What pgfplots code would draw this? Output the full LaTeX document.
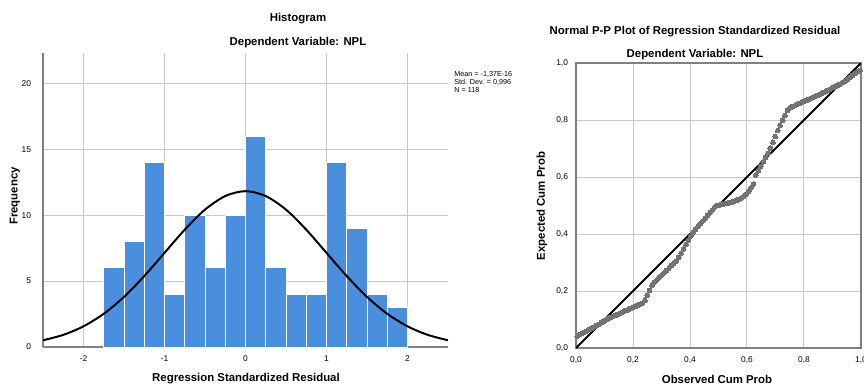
\documentclass[border=0pt]{standalone}
\usepackage{fontspec}
\setmainfont{Liberation Sans}
\usepackage{pgfplots}
\pgfplotsset{compat=1.18}
\definecolor{barblue}{RGB}{74,143,221}
\definecolor{gridgray}{RGB}{200,200,200}
\definecolor{ptgray}{RGB}{115,115,115}
\newcommand{\tfont}{\fontsize{5.7}{6.5}\selectfont\bfseries}
\newcommand{\kfont}{\fontsize{4.2}{5}\selectfont}
\begin{document}
\begin{tikzpicture}
\path[use as bounding box] (0,0) rectangle (432pt,193.5pt);
% Histogram
\begin{axis}[
  at={(21.5pt,20pt)}, anchor=south west,
  scale only axis, width=202.5pt, height=147pt,
  xmin=-2.5, xmax=2.5, ymin=0, ymax=22.3,
  xtick={-2,-1,0,1,2}, xticklabels={-2,-1,0,1,2},
  ytick={0,5,10,15,20}, yticklabels={0,5,10,15,20},
  grid=major, major grid style={gridgray, line width=0.5pt},
  axis x line*=bottom, axis y line*=left,
  axis line style={-, gray, line width=0.6pt},
  tick style={draw=none},
  ticklabel style={font=\kfont},
  xticklabel style={yshift=-1pt},
  yticklabel style={xshift=-2.5pt},
]
\addplot[ybar interval, fill=barblue, draw=white, line width=0.5pt] coordinates {
(-1.75,6) (-1.5,8) (-1.25,14) (-1.0,4) (-0.75,10) (-0.5,6) (-0.25,10)
(0,16) (0.25,6) (0.5,4) (0.75,4) (1.0,14) (1.25,9) (1.5,4) (1.75,3) (2.0,3)};
\addplot[black, line width=1pt, smooth] coordinates {
(-2.5,0.51) (-2.25,0.92) (-2.0,1.57) (-1.75,2.52) (-1.5,3.80) (-1.25,5.38)
(-1.0,7.14) (-0.75,8.90) (-0.5,10.42) (-0.25,11.45) (0,11.82)
(0.25,11.45) (0.5,10.42) (0.75,8.90) (1.0,7.14) (1.25,5.38) (1.5,3.80)
(1.75,2.52) (2.0,1.57) (2.25,0.92) (2.5,0.51)};
\end{axis}
% P-P plot
\begin{axis}[
  at={(288pt,19.5pt)}, anchor=south west,
  scale only axis, width=142.5pt, height=142.5pt,
  xmin=0, xmax=1, ymin=0, ymax=1,
  xtick={0,0.2,0.4,0.6,0.8,1}, xticklabels={{0,0},{0,2},{0,4},{0,6},{0,8},{1,0}},
  ytick={0,0.2,0.4,0.6,0.8,1}, yticklabels={{0,0},{0,2},{0,4},{0,6},{0,8},{1,0}},
  grid=major, major grid style={gridgray, line width=0.5pt},
  axis line style={gray, line width=0.6pt},
  tick style={draw=none},
  ticklabel style={font=\kfont},
  xticklabel style={yshift=-1pt},
  yticklabel style={xshift=-0.5pt},
]
\addplot[ptgray, only marks, mark=*, mark size=1.2pt, mark options={fill=ptgray, draw=ptgray, line width=0pt}] coordinates {
(0.004,0.042) (0.013,0.047) (0.021,0.051) (0.030,0.056) (0.038,0.060) (0.047,0.065)
(0.055,0.069) (0.064,0.074) (0.072,0.079) (0.081,0.084) (0.089,0.089) (0.097,0.094) (0.106,0.099) (0.114,0.104)
(0.123,0.108) (0.131,0.112) (0.140,0.115) (0.148,0.119) (0.157,0.123) (0.165,0.127) (0.174,0.131)
(0.182,0.134) (0.191,0.138) (0.199,0.142) (0.208,0.146) (0.216,0.150) (0.225,0.153) (0.233,0.157)
(0.242,0.168) (0.250,0.185) (0.258,0.202) (0.267,0.219)
(0.275,0.231) (0.284,0.239) (0.292,0.248) (0.301,0.256) (0.309,0.264) (0.318,0.272) (0.326,0.280) (0.335,0.289) (0.343,0.297) (0.352,0.305)
(0.360,0.317) (0.369,0.332) (0.377,0.347) (0.386,0.363) (0.394,0.378) (0.403,0.393)
(0.411,0.406) (0.419,0.416) (0.428,0.426) (0.436,0.436) (0.445,0.446) (0.453,0.455) (0.462,0.465) (0.470,0.475) (0.479,0.485) (0.487,0.495)
(0.496,0.500) (0.504,0.502) (0.513,0.504) (0.521,0.506) (0.530,0.508) (0.538,0.510) (0.547,0.512) (0.555,0.515)
(0.564,0.518) (0.572,0.522) (0.581,0.527) (0.589,0.533) (0.597,0.540) (0.606,0.550) (0.614,0.562) (0.623,0.575)
(0.631,0.607) (0.640,0.622) (0.648,0.637) (0.657,0.653) (0.665,0.668) (0.674,0.683)
(0.682,0.701) (0.691,0.722) (0.699,0.742) (0.708,0.763)
(0.716,0.782) (0.725,0.799) (0.733,0.816) (0.742,0.833)
(0.750,0.843) (0.758,0.847) (0.767,0.850) (0.775,0.854) (0.784,0.858) (0.792,0.862) (0.801,0.866)
(0.809,0.869) (0.818,0.873) (0.826,0.877) (0.835,0.881) (0.843,0.885) (0.852,0.888) (0.860,0.892)
(0.869,0.896) (0.877,0.901) (0.886,0.905) (0.894,0.909) (0.903,0.914) (0.911,0.918) (0.919,0.922) (0.928,0.926) (0.936,0.931)
(0.945,0.936) (0.953,0.943) (0.962,0.950) (0.970,0.957)
(0.979,0.963) (0.987,0.969) (0.996,0.974)};
\addplot[black, line width=0.9pt] coordinates {(0,0) (1,1)};
\end{axis}
% Texts
\node[font=\tfont] at (149pt,184pt) {Histogram};
\node[font=\tfont] at (149pt,172pt) {Dependent Variable: NPL};
\node[font=\tfont, rotate=90] at (7.5pt,95.5pt) {Frequency};
\node[font=\tfont] at (123pt,4pt) {Regression Standardized Residual};
\node[font=\fontsize{3.6}{4.2}\selectfont, anchor=west, align=left, inner sep=0pt] at (227pt,152.5pt) {Mean = -1,37E-16\\Std. Dev. = 0,996\\N = 118};
\node[font=\tfont] at (347.5pt,177.5pt) {Normal P-P Plot of Regression Standardized Residual};
\node[font=\tfont] at (347.5pt,166pt) {Dependent Variable: NPL};
\node[font=\tfont, rotate=90] at (271pt,90.5pt) {Expected Cum Prob};
\node[font=\tfont] at (358.5pt,4pt) {Observed Cum Prob};
\end{tikzpicture}
\end{document}
